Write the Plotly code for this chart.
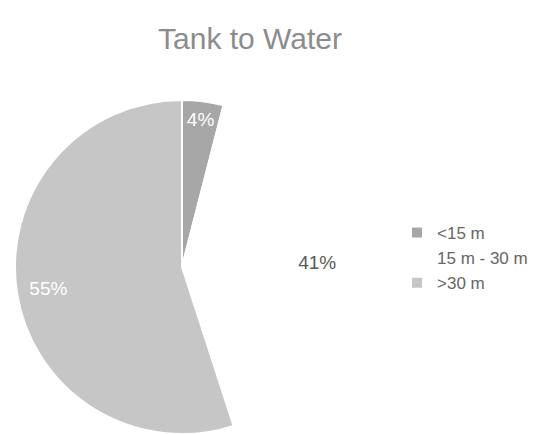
import plotly.graph_objects as go

# Distance from tank to water: share of sites in each band
categories = ["<15 m", "15 m - 30 m", ">30 m"]
shares = [4, 41, 55]
slice_colors = ["#a7a7a7", "#ffffff", "#c6c6c6"]
label_colors = ["#ffffff", "#595959", "#ffffff"]

W, H = 548, 434
FONT = "Liberation Sans, Arial, sans-serif"
pie_domain = dict(x=[15 / W, 349 / W], y=[0, 334 / H])

fig = go.Figure()

# Filled slices (these also feed the legend)
fig.add_trace(
    go.Pie(
        labels=categories,
        values=shares,
        sort=False,
        direction="clockwise",
        rotation=0,
        marker=dict(colors=slice_colors, line=dict(color="#ffffff", width=2)),
        textinfo="none",
        domain=pie_domain,
        hoverinfo="label+percent",
    )
)

# Transparent ring on top that carries the percentage labels toward the rim
fig.add_trace(
    go.Pie(
        labels=categories,
        values=shares,
        sort=False,
        direction="clockwise",
        rotation=0,
        hole=0.62,
        marker=dict(colors=["rgba(0,0,0,0)"] * len(shares), line=dict(width=0)),
        textinfo="percent",
        textposition="inside",
        insidetextorientation="horizontal",
        insidetextfont=dict(family=FONT, size=19, color=label_colors),
        domain=pie_domain,
        showlegend=False,
        hoverinfo="skip",
    )
)

fig.update_layout(
    width=W,
    height=H,
    margin=dict(l=0, r=0, t=0, b=0),
    paper_bgcolor="#ffffff",
    plot_bgcolor="#ffffff",
    title=dict(
        text="Tank to Water",
        x=250 / W,
        xanchor="center",
        xref="paper",
        y=1 - 38 / H,
        yanchor="middle",
        yref="container",
        font=dict(family=FONT, size=30, color="#8c8c8c"),
    ),
    showlegend=True,
    legend=dict(
        x=397 / W,
        xanchor="left",
        y=1 - 258 / H,
        yanchor="middle",
        font=dict(family=FONT, size=17, color="#666666"),
        bgcolor="rgba(0,0,0,0)",
        itemwidth=30,
    ),
)

fig.write_html("out.html")
